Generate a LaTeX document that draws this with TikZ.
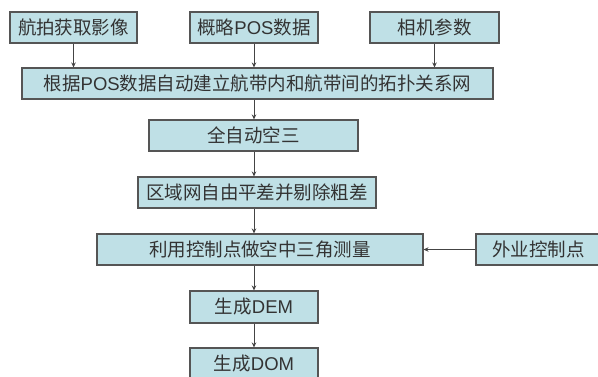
\documentclass[tikz,border=0pt]{standalone}
\usepackage{fontspec}
\setmainfont{Liberation Sans}
\newfontfamily\cjk{Noto Sans CJK SC}
\usetikzlibrary{arrows.meta}
\definecolor{boxfill}{HTML}{BFE0E6}
\definecolor{boxline}{HTML}{555555}
\definecolor{txt}{HTML}{333333}
\begin{document}
\begin{tikzpicture}[x=1pt,y=-1pt,
  box/.style={draw=boxline, line width=1.1pt, fill=boxfill, text=txt,
    font=\fontsize{18.5}{20}\selectfont, inner sep=0pt, minimum height=31pt},
  arr/.style={draw=boxline!80!black, line width=0.8pt, -{Stealth[length=5pt,width=4.5pt]}}]
\useasboundingbox (0,0) rectangle (598,376);
\clip (0,0) rectangle (598,376);
\fill[white] (0,0) rectangle (598,376);
\node[box, minimum width=127pt] (b1) at (73.5,27.5) {\cjk 航拍获取影像};
\node[box, minimum width=128pt] (b2) at (254,27.5) {{\cjk 概略}POS{\cjk 数据}};
\node[box, minimum width=129pt] (b3) at (434.5,27.5) {\cjk 相机参数};
\node[box, minimum width=471pt] (wide) at (257.5,83.5) {{\cjk 根据}POS{\cjk 数据自动建立航带内和航带间的拓扑关系网}};
\node[box, minimum width=209pt] (q) at (253.5,135.5) {\cjk 全自动空三};
\node[box, minimum width=238pt] (r) at (257,192.5) {\cjk 区域网自由平差并剔除粗差};
\node[box, minimum width=326pt] (l) at (260,249.5) {\cjk 利用控制点做空中三角测量};
\node[box, minimum width=125pt] (w) at (538.5,249.5) {\cjk 外业控制点};
\node[box, minimum width=128pt, minimum height=32pt] (dem) at (254,307) {{\cjk 生成}DEM};
\node[box, minimum width=128pt] (dom) at (254,363.5) {{\cjk 生成}DOM};
\draw[arr] (b1.south) -- (b1.south |- wide.north);
\draw[arr] (b2.south) -- (b2.south |- wide.north);
\draw[arr] (b3.south) -- (b3.south |- wide.north);
\draw[arr] (wide.south -| dem) -- (q.north -| dem);
\draw[arr] (q.south -| dem) -- (r.north -| dem);
\draw[arr] (r.south -| dem) -- (l.north -| dem);
\draw[arr] (l.south -| dem) -- (dem.north);
\draw[arr] (dem.south) -- (dom.north);
\draw[arr] (w.west) -- (l.east);
\end{tikzpicture}
\end{document}
